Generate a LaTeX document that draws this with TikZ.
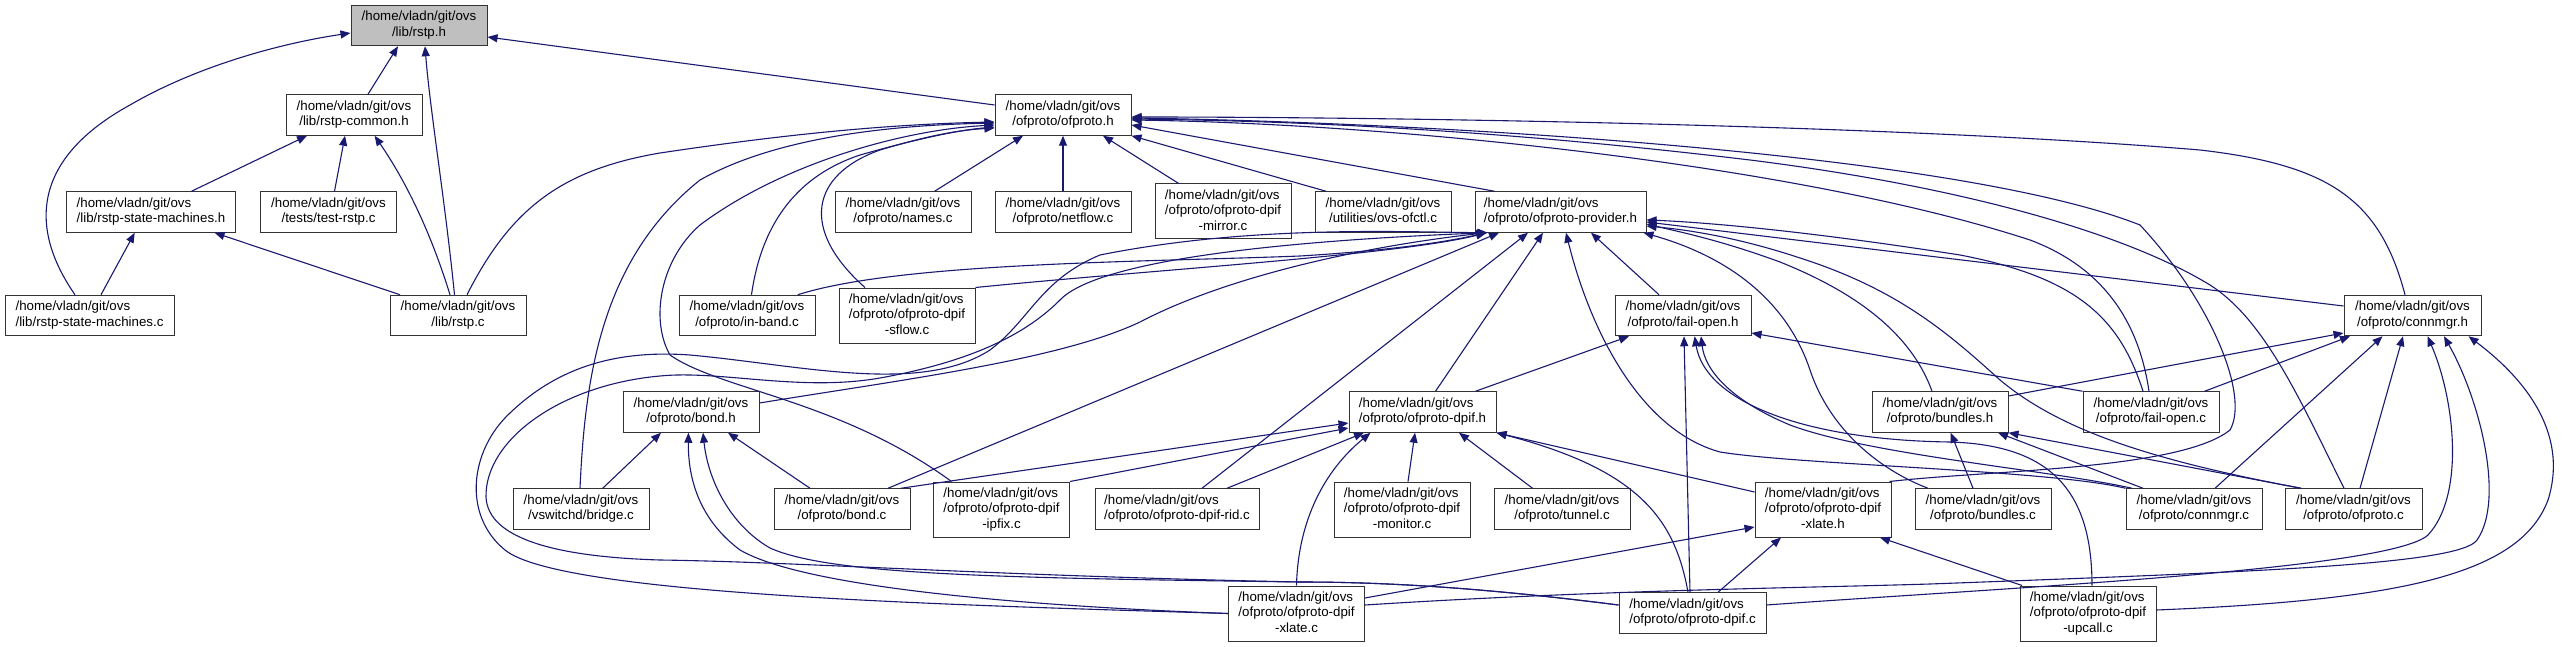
\documentclass[tikz,border=0pt]{standalone}
\usepackage{fontspec}
\setmainfont{Liberation Sans}
\usetikzlibrary{arrows.meta}
\definecolor{edgec}{HTML}{191970}
\definecolor{hilite}{HTML}{BFBFBF}
\newcommand\lbl[2]{\begin{tabular}{@{}l@{}}#1\\\multicolumn{1}{@{}c@{}}{#2}\end{tabular}}
\newcommand\lbll[3]{\begin{tabular}{@{}l@{}}#1\\#2\\\multicolumn{1}{@{}c@{}}{#3}\end{tabular}}
\begin{document}
\begin{tikzpicture}[x=1pt,y=-1pt,
  box/.style={draw=black!80, line width=1pt, fill=white, inner sep=0pt, minimum width=136pt, minimum height=40.5pt, font=\fontsize{13.3}{15.5}\selectfont},
  tall/.style={minimum height=55pt},
  edge/.style={draw=edgec, line width=1.1pt, -{Triangle[length=10pt,width=8pt]}}]
\useasboundingbox (0,0) rectangle (2562,647);
\fill[white] (0,0) rectangle (2562,647);
% nodes
\node[box,fill=hilite] (rstph) at (419,25.5) {\lbl{/home/vladn/git/ovs}{/lib/rstp.h}};
\node[box] (common) at (354,115) {\lbl{/home/vladn/git/ovs}{/lib/rstp-common.h}};
\node[box,minimum width=169pt] (rsmh) at (151,212) {\lbl{/home/vladn/git/ovs}{/lib/rstp-state-machines.h}};
\node[box] (testrstp) at (328.5,212) {\lbl{/home/vladn/git/ovs}{/tests/test-rstp.c}};
\node[box,minimum width=169pt] (rsmc) at (89.5,315.5) {\lbl{/home/vladn/git/ovs}{/lib/rstp-state-machines.c}};
\node[box] (rstpc) at (458,315.5) {\lbl{/home/vladn/git/ovs}{/lib/rstp.c}};
\node[box] (ofprotoh) at (1063,115) {\lbl{/home/vladn/git/ovs}{/ofproto/ofproto.h}};
\node[box] (names) at (903,212) {\lbl{/home/vladn/git/ovs}{/ofproto/names.c}};
\node[box] (netflow) at (1063,212) {\lbl{/home/vladn/git/ovs}{/ofproto/netflow.c}};
\node[box,tall] (mirror) at (1223,211.5) {\lbll{/home/vladn/git/ovs}{/ofproto/ofproto-dpif}{-mirror.c}};
\node[box] (inband) at (747,315.5) {\lbl{/home/vladn/git/ovs}{/ofproto/in-band.c}};
\node[box,tall] (sflow) at (907,315.5) {\lbll{/home/vladn/git/ovs}{/ofproto/ofproto-dpif}{-sflow.c}};
\node[box] (ofctl) at (1383,212) {\lbl{/home/vladn/git/ovs}{/utilities/ovs-ofctl.c}};
\node[box,minimum width=171pt] (provider) at (1560.5,212) {\lbl{/home/vladn/git/ovs}{/ofproto/ofproto-provider.h}};
\node[box] (failopenh) at (1683,315.5) {\lbl{/home/vladn/git/ovs}{/ofproto/fail-open.h}};
\node[box,minimum width=137pt] (connmgrh) at (2412.5,315.5) {\lbl{/home/vladn/git/ovs}{/ofproto/connmgr.h}};
\node[box] (bridge) at (581,509) {\lbl{/home/vladn/git/ovs}{/vswitchd/bridge.c}};
\node[box] (bondh) at (691,412) {\lbl{/home/vladn/git/ovs}{/ofproto/bond.h}};
\node[box] (bondc) at (842,509) {\lbl{/home/vladn/git/ovs}{/ofproto/bond.c}};
\node[box,tall] (ipfix) at (1001.5,509.5) {\lbll{/home/vladn/git/ovs}{/ofproto/ofproto-dpif}{-ipfix.c}};
\node[box,minimum width=164pt] (rid) at (1177,509) {\lbl{/home/vladn/git/ovs}{/ofproto/ofproto-dpif-rid.c}};
\node[box,tall] (xlatec) at (1296.5,613.5) {\lbll{/home/vladn/git/ovs}{/ofproto/ofproto-dpif}{-xlate.c}};
\node[box,minimum width=147pt] (dpifh) at (1422.5,412) {\lbl{/home/vladn/git/ovs}{/ofproto/ofproto-dpif.h}};
\node[box,tall] (monitor) at (1402,509.5) {\lbll{/home/vladn/git/ovs}{/ofproto/ofproto-dpif}{-monitor.c}};
\node[box] (tunnel) at (1562,509) {\lbl{/home/vladn/git/ovs}{/ofproto/tunnel.c}};
\node[box,tall] (xlateh) at (1823,509.5) {\lbll{/home/vladn/git/ovs}{/ofproto/ofproto-dpif}{-xlate.h}};
\node[box,minimum width=147pt] (dpifc) at (1692.5,613) {\lbl{/home/vladn/git/ovs}{/ofproto/ofproto-dpif.c}};
\node[box] (bundlesh) at (1940,412) {\lbl{/home/vladn/git/ovs}{/ofproto/bundles.h}};
\node[box] (failopenc) at (2151,412) {\lbl{/home/vladn/git/ovs}{/ofproto/fail-open.c}};
\node[box] (bundlesc) at (1983,509) {\lbl{/home/vladn/git/ovs}{/ofproto/bundles.c}};
\node[box] (connmgrc) at (2194,509) {\lbl{/home/vladn/git/ovs}{/ofproto/connmgr.c}};
\node[box,minimum width=137pt] (ofprotoc) at (2353.5,509) {\lbl{/home/vladn/git/ovs}{/ofproto/ofproto.c}};
\node[box,tall] (upcall) at (2088,613.5) {\lbll{/home/vladn/git/ovs}{/ofproto/ofproto-dpif}{-upcall.c}};
% rstp edges
\draw[edge] ([xshift=-14.5pt]rsmc.north) .. controls (30,230) and (30,160) .. (130,105) .. controls (190,70) and (270,45) .. ([yshift=-7.5pt]rstph.west);
\draw[edge] ([xshift=14pt]common.north) -- ([xshift=-21pt]rstph.south);
\draw[edge] ([xshift=-3.5pt]rstpc.north) .. controls (445,200) and (430,110) .. ([xshift=6pt]rstph.south);
\draw[edge] ([yshift=10pt]ofprotoh.west) -- ([yshift=-11.5pt]rstph.east);
\draw[edge] ([xshift=40.5pt]rsmh.north) -- ([xshift=-47pt]common.south);
\draw[edge] ([xshift=6pt]testrstp.north) -- ([xshift=-9pt]common.south);
\draw[edge] ([xshift=-8pt]rstpc.north) .. controls (430,230) and (405,180) .. ([xshift=20.6pt]common.south);
\draw[edge] ([xshift=11.5pt]rsmc.north) -- ([xshift=-16.3pt]rsmh.south);
\draw[edge] ([xshift=-58pt]rstpc.north) -- ([xshift=63.6pt]rsmh.south);
% ofproto.h edges
\draw[edge] ([xshift=9pt]rstpc.north) .. controls (510,210) and (560,170) .. (660,153) .. controls (800,132) and (900,124) .. ([yshift=-7pt]ofprotoh.west);
\draw[edge] ([xshift=31.6pt]names.north) -- ([xshift=-40pt]ofprotoh.south);
\draw[edge] (netflow) -- (ofprotoh);
\draw[edge] ([xshift=-44.3pt]mirror.north) -- ([xshift=40pt]ofprotoh.south);
\draw[edge] ([xshift=-57pt]ofctl.north) -- (ofprotoh.south east);
\draw[edge] ([xshift=-66pt]provider.north) -- ([yshift=-10pt]ofprotoh.east);
\draw[edge] ([xshift=4.5pt]inband.north) .. controls (762,220) and (800,175) .. (860,155) .. controls (920,138) and (960,130) .. ([yshift=-12pt]ofprotoh.west);
\draw[edge] ([xshift=-42pt]sflow.north) .. controls (800,230) and (810,175) .. (880,150) .. controls (930,135) and (960,130) .. ([yshift=-13pt]ofprotoh.west);
\draw[edge] ([xshift=-1pt]bridge.north) .. controls (585,380) and (600,260) .. (700,180) .. controls (780,135) and (900,125) .. ([yshift=-8pt]ofprotoh.west);
\draw[edge] ([xshift=-50pt]ipfix.north) .. controls (840,400) and (720,390) .. (670,355) .. controls (650,320) and (660,260) .. (700,225) .. controls (780,165) and (900,130) .. ([yshift=-10pt]ofprotoh.west);
\draw[edge] ([xshift=-7.5pt]connmgrh.north) .. controls (2380,200) and (2330,165) .. (2200,150) .. controls (1900,125) and (1400,117) .. ([yshift=-2pt]ofprotoh.east);
\draw[edge] ([xshift=-2pt]xlateh.north east) .. controls (1990,470) and (2180,470) .. (2230,430) .. controls (2250,395) and (2210,300) .. (2140,225) .. controls (1950,150) and (1400,122) .. ([yshift=-3pt]ofprotoh.east);
\draw[edge] ([xshift=-9.5pt]ofprotoc.north) .. controls (2300,400) and (2265,320) .. (2210,285) .. controls (2120,230) and (1950,185) .. (1750,160) .. controls (1500,130) and (1300,121) .. ([yshift=-4pt]ofprotoh.east);
\draw[edge] ([xshift=-2pt]failopenc.north) .. controls (2140,330) and (2110,270) .. (2030,240) .. controls (1800,165) and (1400,124) .. ([yshift=-5pt]ofprotoh.east);
% ofproto-provider.h edges
\draw[edge] ([xshift=50.8pt]inband.north) .. controls (900,262) and (1150,262) .. (1300,256) .. controls (1400,250) and (1455,240) .. ([xshift=-74.5pt]provider.south);
\draw[edge] (sflow.north east) .. controls (1150,270) and (1400,255) .. ([xshift=-74pt]provider.south);
\draw[edge] ([yshift=9pt]bondh.east) .. controls (900,380) and (1060,360) .. (1140,322) .. controls (1220,280) and (1350,248) .. ([xshift=-74pt]provider.south);
\draw[edge] (xlatec.west) .. controls (950,605) and (560,595) .. (505,550) .. controls (462,515) and (470,450) .. (510,413) .. controls (560,365) and (620,350) .. (690,355) .. controls (800,365) and (920,395) .. (990,350) .. controls (1030,320) and (1040,280) .. (1100,255) .. controls (1250,225) and (1400,232) .. ([xshift=-73pt]provider.south);
\draw[edge] ([yshift=8pt]dpifc.west) .. controls (1500,590) and (1400,582) .. (1300,582) .. controls (1000,576) and (800,562) .. (660,560) .. controls (560,557) and (488,540) .. (486,497) .. controls (485,440) and (560,385) .. (660,376) .. controls (720,370) and (800,392) .. (880,378) .. controls (980,360) and (1030,330) .. (1060,300) .. controls (1100,258) and (1300,240) .. ([xshift=-73pt]provider.south);
\draw[edge] ([xshift=46pt]bondc.north) -- ([xshift=-61.5pt]provider.south);
\draw[edge] ([xshift=25pt]rid.north) -- ([xshift=-32.5pt]provider.south);
\draw[edge] ([xshift=13pt]dpifh.north) -- ([xshift=-17.5pt]provider.south);
\draw[edge] ([xshift=-24pt]failopenh.north) -- ([xshift=30.5pt]provider.south);
\draw[edge] (connmgrc.north west) .. controls (2050,470) and (1800,465) .. (1720,452) .. controls (1640,430) and (1590,330) .. ([xshift=5.5pt]provider.south);
\draw[edge] ([xshift=-8pt]failopenc.north) .. controls (2120,320) and (2080,278) .. (1960,255) .. controls (1800,230) and (1700,222) .. ([yshift=-8pt]provider.east);
\draw[edge] ([yshift=9.5pt]connmgrh.west) -- ([yshift=-10pt]provider.east);
\draw[edge] ([xshift=-8pt]bundlesh.north) .. controls (1910,330) and (1850,290) .. (1780,262) .. controls (1720,240) and (1680,232) .. ([yshift=-12pt]provider.east);
\draw[edge] ([xshift=-52.5pt]ofprotoc.north) .. controls (2150,460) and (2060,430) .. (2000,380) .. controls (1950,335) and (1900,290) .. (1800,258) .. controls (1740,238) and (1690,230) .. ([yshift=-14pt]provider.east);
\draw[edge] ([xshift=-55pt]bundlesc.north) .. controls (1880,470) and (1830,430) .. (1810,370) .. controls (1790,310) and (1740,260) .. ([xshift=-3pt]provider.south east);
% fail-open.h edges
\draw[edge] ([xshift=53pt]dpifh.north) -- ([xshift=-54pt]failopenh.south);
\draw[edge] ([xshift=-2.5pt]dpifc.north) -- ([xshift=1pt]failopenh.south);
\draw[edge] ([xshift=4pt]upcall.north) .. controls (2092,490) and (2050,445) .. (1950,442) .. controls (1800,440) and (1705,400) .. ([xshift=11.6pt]failopenh.south);
\draw[edge] ([xshift=-62pt]connmgrc.north) .. controls (2050,470) and (1870,455) .. (1790,425) .. controls (1730,400) and (1705,370) .. ([xshift=18pt]failopenh.south);
\draw[edge] (failopenc.north west) -- ([yshift=-17.5pt]failopenh.east);
% ofproto-dpif.h edges
\draw[edge] ([xshift=59pt]bondc.north) -- ([yshift=-11pt]dpifh.west);
\draw[edge] (ipfix.north east) -- ([yshift=-16pt]dpifh.west);
\draw[edge] ([xshift=50pt]rid.north) -- ([xshift=-58.5pt]dpifh.south);
\draw[edge] (xlatec.north) .. controls (1298,520) and (1325,470) .. ([xshift=-52pt]dpifh.south);
\draw[edge] ([xshift=6pt]monitor.north) -- ([xshift=-7.5pt]dpifh.south);
\draw[edge] ([xshift=-29.5pt]tunnel.north) -- ([xshift=36.5pt]dpifh.south);
\draw[edge] ([yshift=17.5pt]xlateh.west) -- (dpifh.south east);
\draw[edge] ([xshift=-4.5pt]dpifc.north) .. controls (1675,520) and (1640,470) .. (dpifh.south east);
% bond.h edges
\draw[edge] ([xshift=21.7pt]bridge.north) -- ([xshift=-30pt]bondh.south);
\draw[edge] ([xshift=-32pt]bondc.north) -- ([xshift=37pt]bondh.south);
\draw[edge] (xlatec.west) .. controls (1000,605) and (800,585) .. (740,550) .. controls (700,520) and (688,480) .. ([xshift=-2.6pt]bondh.south);
\draw[edge] ([yshift=8pt]dpifc.west) .. controls (1500,590) and (1400,582) .. (1300,582) .. controls (1000,578) and (830,575) .. (770,548) .. controls (730,525) and (708,480) .. ([xshift=12pt]bondh.south);
% ofproto-dpif-xlate.h edges
\draw[edge] ([yshift=15.5pt]xlatec.east) -- ([yshift=-17.5pt]xlateh.west);
\draw[edge] ([xshift=25.5pt]dpifc.north) -- ([xshift=-42pt]xlateh.south);
\draw[edge] ([xshift=-66pt]upcall.north) -- ([xshift=57pt]xlateh.south);
% connmgr.h edges
\draw[edge] ([yshift=16pt]bundlesh.east) -- ([yshift=-17.5pt]connmgrh.west);
\draw[edge] ([xshift=53.6pt]failopenc.north) -- ([xshift=-62.5pt]connmgrh.south);
\draw[edge] ([xshift=21pt]connmgrc.north) -- ([xshift=-30pt]connmgrh.south);
\draw[edge] ([xshift=6.5pt]ofprotoc.north) -- ([xshift=-9.5pt]connmgrh.south);
\draw[edge] ([yshift=8pt]dpifc.east) .. controls (2000,588) and (2390,570) .. (2428,535) .. controls (2465,495) and (2455,400) .. ([xshift=15pt]connmgrh.south);
\draw[edge] ([yshift=8.5pt]xlatec.east) .. controls (1600,590) and (1800,588) .. (1930,584) .. controls (2250,572) and (2460,565) .. (2477,540) .. controls (2505,500) and (2480,400) .. ([xshift=31.5pt]connmgrh.south);
\draw[edge] ([yshift=3.5pt]upcall.east) .. controls (2400,600) and (2520,575) .. (2548,500) .. controls (2570,430) and (2520,375) .. ([xshift=56pt]connmgrh.south);
% bundles.h edges
\draw[edge] ([xshift=-10pt]bundlesc.north) -- ([xshift=10.7pt]bundlesh.south);
\draw[edge] ([xshift=-51pt]connmgrc.north) -- ([xshift=58pt]bundlesh.south);
\draw[edge] ([xshift=-52.5pt]ofprotoc.north) -- (bundlesh.south east);
\end{tikzpicture}
\end{document}
